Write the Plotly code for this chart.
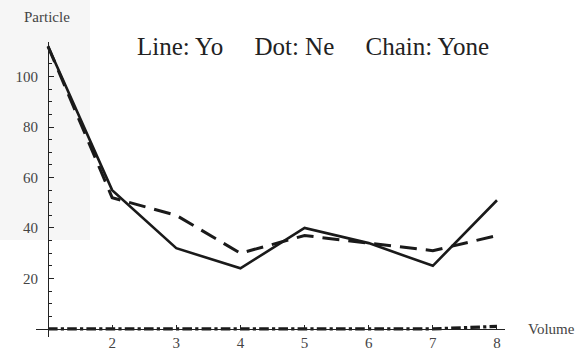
import plotly.graph_objects as go

volume = [1, 2, 3, 4, 5, 6, 7, 8]
yo = [112, 55, 32, 24, 40, 34, 25, 51]
ne = [112, 52, 45, 30, 37, 34, 31, 37]
yone = [0, 0, 0, 0, 0, 0, 0, 1]
x_ticks = [2, 3, 4, 5, 6, 7, 8]
y_ticks = [20, 40, 60, 80, 100]

W, H = 586, 354
L, R, T, B = 36, 81, 42, 17
PW, PH = W - L - R, H - T - B
xr = [0.813, 8.125]
yr = [-3.2, 113.7]

def px(xp):
    return (xp - L) / PW

def py(yp):
    return (H - B - yp) / PH

fig = go.Figure()
fig.add_trace(go.Scatter(x=volume, y=yone, mode="lines",
                         line=dict(color="#1a1a1a", width=3.2, dash="dashdot"), name="Yone"))
fig.add_trace(go.Scatter(x=volume, y=ne, mode="lines",
                         line=dict(color="#1a1a1a", width=3, dash="17px,9px"), name="Ne"))
fig.add_trace(go.Scatter(x=volume, y=yo, mode="lines",
                         line=dict(color="#1a1a1a", width=2.6), name="Yo"))

serif = "Liberation Serif"
sp = "&nbsp;" * 5
fig.update_layout(
    width=W, height=H,
    margin=dict(l=L, r=R, t=T, b=B, autoexpand=False),
    paper_bgcolor="white", plot_bgcolor="rgba(0,0,0,0)",
    showlegend=False,
    font=dict(family=serif, color="#444"),
    xaxis=dict(range=xr, domain=[0, 1], anchor="free", automargin=False,
               position=(0 - yr[0]) / (yr[1] - yr[0]),
               showgrid=False, zeroline=False, showline=True, linecolor="#222", linewidth=1,
               tickmode="array", tickvals=x_ticks, ticktext=[str(v) for v in x_ticks],
               ticks="inside", ticklen=4, tickcolor="#222",
               tickfont=dict(family=serif, size=15, color="#444")),
    yaxis=dict(range=yr, domain=[0, 1], anchor="free", automargin=False,
               position=(1 - xr[0]) / (xr[1] - xr[0]),
               showgrid=False, zeroline=False, showline=True, linecolor="#222", linewidth=1,
               tickmode="array", tickvals=y_ticks, ticktext=[str(v) for v in y_ticks],
               ticks="inside", ticklen=5, tickcolor="#222", ticklabelstandoff=7,
               minor=dict(tickvals=[5, 10, 15, 25, 30, 35, 45, 50, 55, 65, 70, 75, 85, 90, 95, 105, 110],
                          ticks="inside", ticklen=3, tickcolor="#222"),
               tickfont=dict(family=serif, size=15, color="#444")),
    shapes=[dict(type="rect", xref="paper", yref="paper", layer="below",
                 x0=px(0), x1=px(90), y0=py(240), y1=py(0),
                 fillcolor="#f6f6f6", line=dict(width=0))],
    annotations=[
        dict(text="Particle", xref="paper", yref="paper",
             x=px(47), y=py(17), xanchor="center", yanchor="middle", showarrow=False,
             font=dict(family=serif, size=15, color="#444")),
        dict(text="Volume", xref="paper", yref="paper",
             x=px(551), y=py(329), xanchor="center", yanchor="middle", showarrow=False,
             font=dict(family=serif, size=15, color="#444")),
        dict(text="Line: Yo" + sp + "Dot: Ne" + sp + "Chain: Yone",
             xref="paper", yref="paper", x=px(313), y=py(47),
             xanchor="center", yanchor="middle", showarrow=False,
             font=dict(family=serif, size=25, color="#222")),
    ],
)

fig.write_html("out.html", config={"displayModeBar": False},
               post_script="document.body.style.margin='0';document.body.style.padding='0';")
